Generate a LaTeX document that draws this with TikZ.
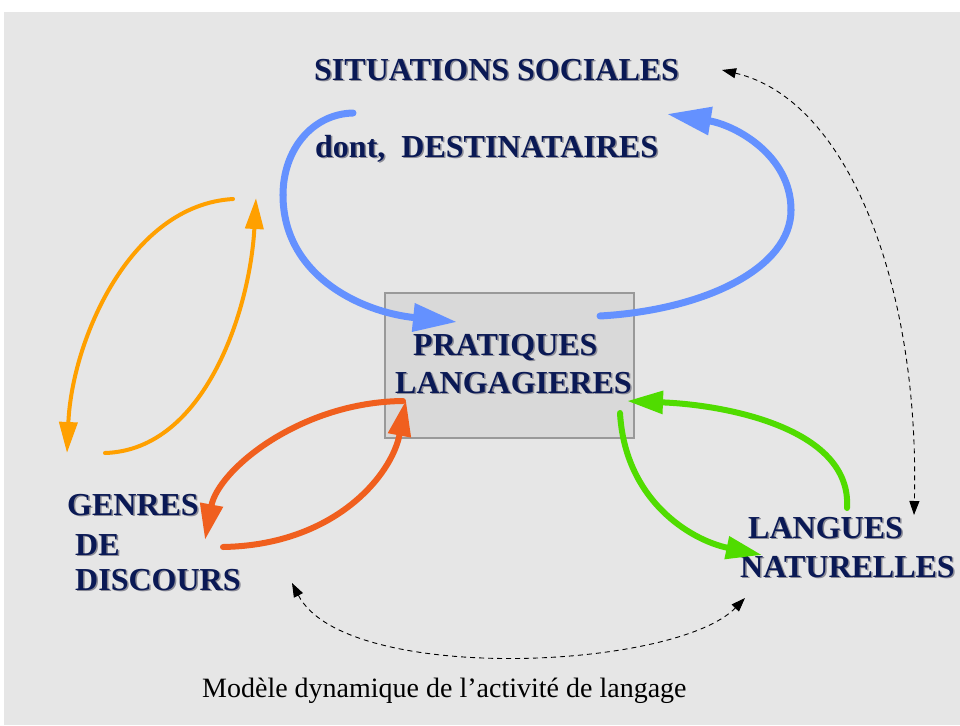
\documentclass[tikz,border=0pt]{standalone}
\usepackage{fontspec}
\setmainfont{Liberation Serif}
\usetikzlibrary{arrows.meta,calc}
\definecolor{bggray}{HTML}{E6E6E6}
\definecolor{boxfill}{HTML}{D9D9D9}
\definecolor{boxline}{HTML}{999999}
\definecolor{navy}{RGB}{10,25,85}
\definecolor{shade}{RGB}{140,140,150}
\definecolor{blu}{RGB}{100,145,255}
\definecolor{ora}{RGB}{255,160,0}
\definecolor{red}{RGB}{240,95,30}
\definecolor{grn}{RGB}{80,220,0}
\tikzset{
  lbl/.style={font=\fontsize{32}{36}\bfseries\selectfont, text=navy, anchor=base west, inner sep=0pt},
  lblsh/.style={lbl, text=shade},
  bluarrow/.style={draw=blu, line width=7pt, line cap=round, -{Triangle[length=44pt,width=27pt]}},
  bluseg/.style={draw=blu, line width=7pt, line cap=round},
  oraarrow/.style={draw=ora, line width=4pt, line cap=round, -{Triangle[length=31pt,width=18pt]}},
  redarrow/.style={draw=red, line width=6pt, line cap=round, -{Triangle[length=36pt,width=22pt]}},
  grnarrow/.style={draw=grn, line width=6pt, line cap=round, -{Triangle[length=36pt,width=22pt]}},
  dasharrow/.style={draw=black, line width=0.9pt, dash pattern=on 5pt off 4pt, {Triangle[length=14pt,width=10pt]}-{Triangle[length=14pt,width=10pt]}}
}
\begin{document}
\begin{tikzpicture}[x=1pt,y=-1pt]
\useasboundingbox (0,0) rectangle (960,725);
\fill[white] (0,0) rectangle (960,725);
\fill[bggray] (4,12) rectangle (960,725);

% central box
\node[draw=boxline, fill=boxfill, line width=2pt, minimum width=249pt, minimum height=145pt, inner sep=0pt] (box) at (509.5,365.5) {};

% labels (shadow + text)
\node[lblsh] (t1s) at (315.5,81.5) {SITUATIONS SOCIALES};
\node[lbl] (t1) at (314,80) {SITUATIONS SOCIALES};
\node[lblsh] (t2s) at (316.5,158.5) {dont,~~DESTINATAIRES};
\node[lbl] (t2) at (315,157) {dont,~~DESTINATAIRES};
\node[lblsh] (t3s) at (414.5,356.5) {PRATIQUES};
\node[lbl] (t3) at (413,355) {PRATIQUES};
\node[lblsh] (t4s) at (396.5,394.5) {LANGAGIERES};
\node[lbl] (t4) at (395,393) {LANGAGIERES};
\node[lblsh] (g1s) at (68.5,516.5) {GENRES};
\node[lbl] (g1) at (67,515) {GENRES};
\node[lblsh] (g2s) at (76.5,556.5) {DE};
\node[lbl] (g2) at (75,555) {DE};
\node[lblsh] (g3s) at (76.5,591.5) {DISCOURS};
\node[lbl] (g3) at (75,590) {DISCOURS};
\node[lblsh] (l1s) at (749.5,539.5) {LANGUES};
\node[lbl] (l1) at (748,538) {LANGUES};
\node[lblsh] (l2s) at (741.5,578.5) {NATURELLES};
\node[lbl] (l2) at (740,577) {NATURELLES};
\node[font=\fontsize{28}{32}\selectfont, anchor=base west, inner sep=0pt] (cap) at (202,697) {Modèle dynamique de l’activité de langage};

% coordinates for connector ends
\coordinate (b1s) at (353,113);
\coordinate (b1m) at (283,195);
\coordinate (b1e) at (457,322);
\coordinate (b2s) at (600,316);
\coordinate (b2m) at (791,210);
\coordinate (b2e) at (667,114);
\coordinate (o1s) at (233,199);
\coordinate (o1e) at (67,453);
\coordinate (o2s) at (105,453);
\coordinate (o2e) at (256,198);
\coordinate (r1s) at (403,401);
\coordinate (r1e) at (205,540);
\coordinate (r2s) at (223,547);
\coordinate (r2e) at (406,400);
\coordinate (gr1s) at (620,413);
\coordinate (gr1e) at (762,555);
\coordinate (gr2s) at (847,508);
\coordinate (gr2e) at (627,401);
\coordinate (d1a) at (722,70);
\coordinate (d1b) at (914,515);
\coordinate (d2a) at (292,583);
\coordinate (d2b) at (745,598);

% blue loops
\draw[bluseg] (b1s) .. controls (312,114) and (283,150) .. (b1m);
\draw[bluarrow] (b1m) .. controls (283,275) and (360,312) .. (b1e);
\draw[bluseg] (b2s) .. controls (705,310) and (791,268) .. (b2m);
\draw[bluarrow] (b2m) .. controls (791,155) and (735,125) .. (b2e);

% orange
\draw[oraarrow] (o1s) .. controls (130,205) and (72,340) .. (o1e);
\draw[oraarrow] (o2s) .. controls (205,450) and (250,310) .. (o2e);

% red
\draw[redarrow] (r1s) .. controls (300,402) and (218,470) .. (r1e);
\draw[redarrow] (r2s) .. controls (335,545) and (392,475) .. (r2e);

% green
\draw[grnarrow] (gr1s) .. controls (625,500) and (690,540) .. (gr1e);
\draw[grnarrow] (gr2s) .. controls (852,430) and (730,405) .. (gr2e);

% dashed
\draw[dasharrow] (d1a) .. controls (850,100) and (920,290) .. (d1b);
\draw[dasharrow] (d2a) .. controls (345,685) and (675,670) .. (d2b);
\end{tikzpicture}
\end{document}
